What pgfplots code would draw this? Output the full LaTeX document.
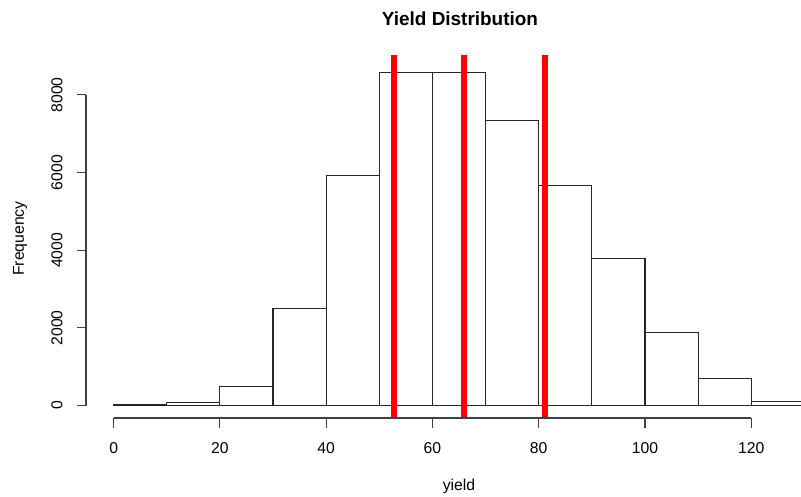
\documentclass[border=0pt]{standalone}
\usepackage{pgfplots}
\pgfplotsset{compat=1.18}
\usepackage{fontspec}
\setmainfont{Liberation Sans}

% Histogram bin counts (bins of width 10, left edges 0..120)
\begin{document}
\begin{tikzpicture}[x=0.75pt,y=0.75pt]
\clip (0,0) rectangle (801,497);
\useasboundingbox (0,0) rectangle (801,497);
\begin{axis}[
  at={(64.5pt,59.25pt)}, anchor=south west,
  scale only axis, width=559.5pt, height=272.25pt,
  xmin=-5.2, xmax=135.2, ymin=-319, ymax=9027,
  axis lines=none,
  clip mode=individual,
]
% bars
\addplot[ybar interval, draw=black!85, line width=0.8pt, fill=none]
  coordinates {
    (0,15) (10,77) (20,495) (30,2497) (40,5925) (50,8580) (60,8565)
    (70,7340) (80,5665) (90,3785) (100,1880) (110,687) (120,110) (130,110)
  };
% quartiles
\addplot[red, line width=5pt, forget plot] coordinates {(52.75,-319) (52.75,9027)};
\addplot[red, line width=5pt, forget plot] coordinates {(65.93,-319) (65.93,9027)};
\addplot[red, line width=5pt, forget plot] coordinates {(81.2,-319) (81.2,9027)};
% x axis
\draw[black!75, line width=0.8pt] (axis cs:0,-319) -- (axis cs:120,-319);
\pgfplotsinvokeforeach{0,20,40,60,80,100,120}{
  \draw[black!75, line width=0.8pt] (axis cs:#1,-319) -- ([yshift=-7.5pt]axis cs:#1,-319);
  \node[font=\fontsize{11.8}{14}\selectfont, inner sep=0pt] at ([yshift=-22.5pt]axis cs:#1,-319) {#1};
}
% y axis
\draw[black!75, line width=0.8pt] (axis cs:-5.2,0) -- (axis cs:-5.2,8000);
\pgfplotsinvokeforeach{0,2000,4000,6000,8000}{
  \draw[black!75, line width=0.8pt] (axis cs:-5.2,#1) -- ([xshift=-7pt]axis cs:-5.2,#1);
  \node[font=\fontsize{11.8}{14}\selectfont, inner sep=0pt, rotate=90] at ([xshift=-21.75pt]axis cs:-5.2,#1) {#1};
}
\end{axis}
\node[font=\bfseries\fontsize{14.2}{17}\selectfont] at (460,478) {Yield Distribution};
\node[font=\fontsize{11.8}{14}\selectfont] at (459,10.5) {yield};
\node[font=\fontsize{11.8}{14}\selectfont, rotate=90] at (20,258.5) {Frequency};
\end{tikzpicture}
\end{document}
